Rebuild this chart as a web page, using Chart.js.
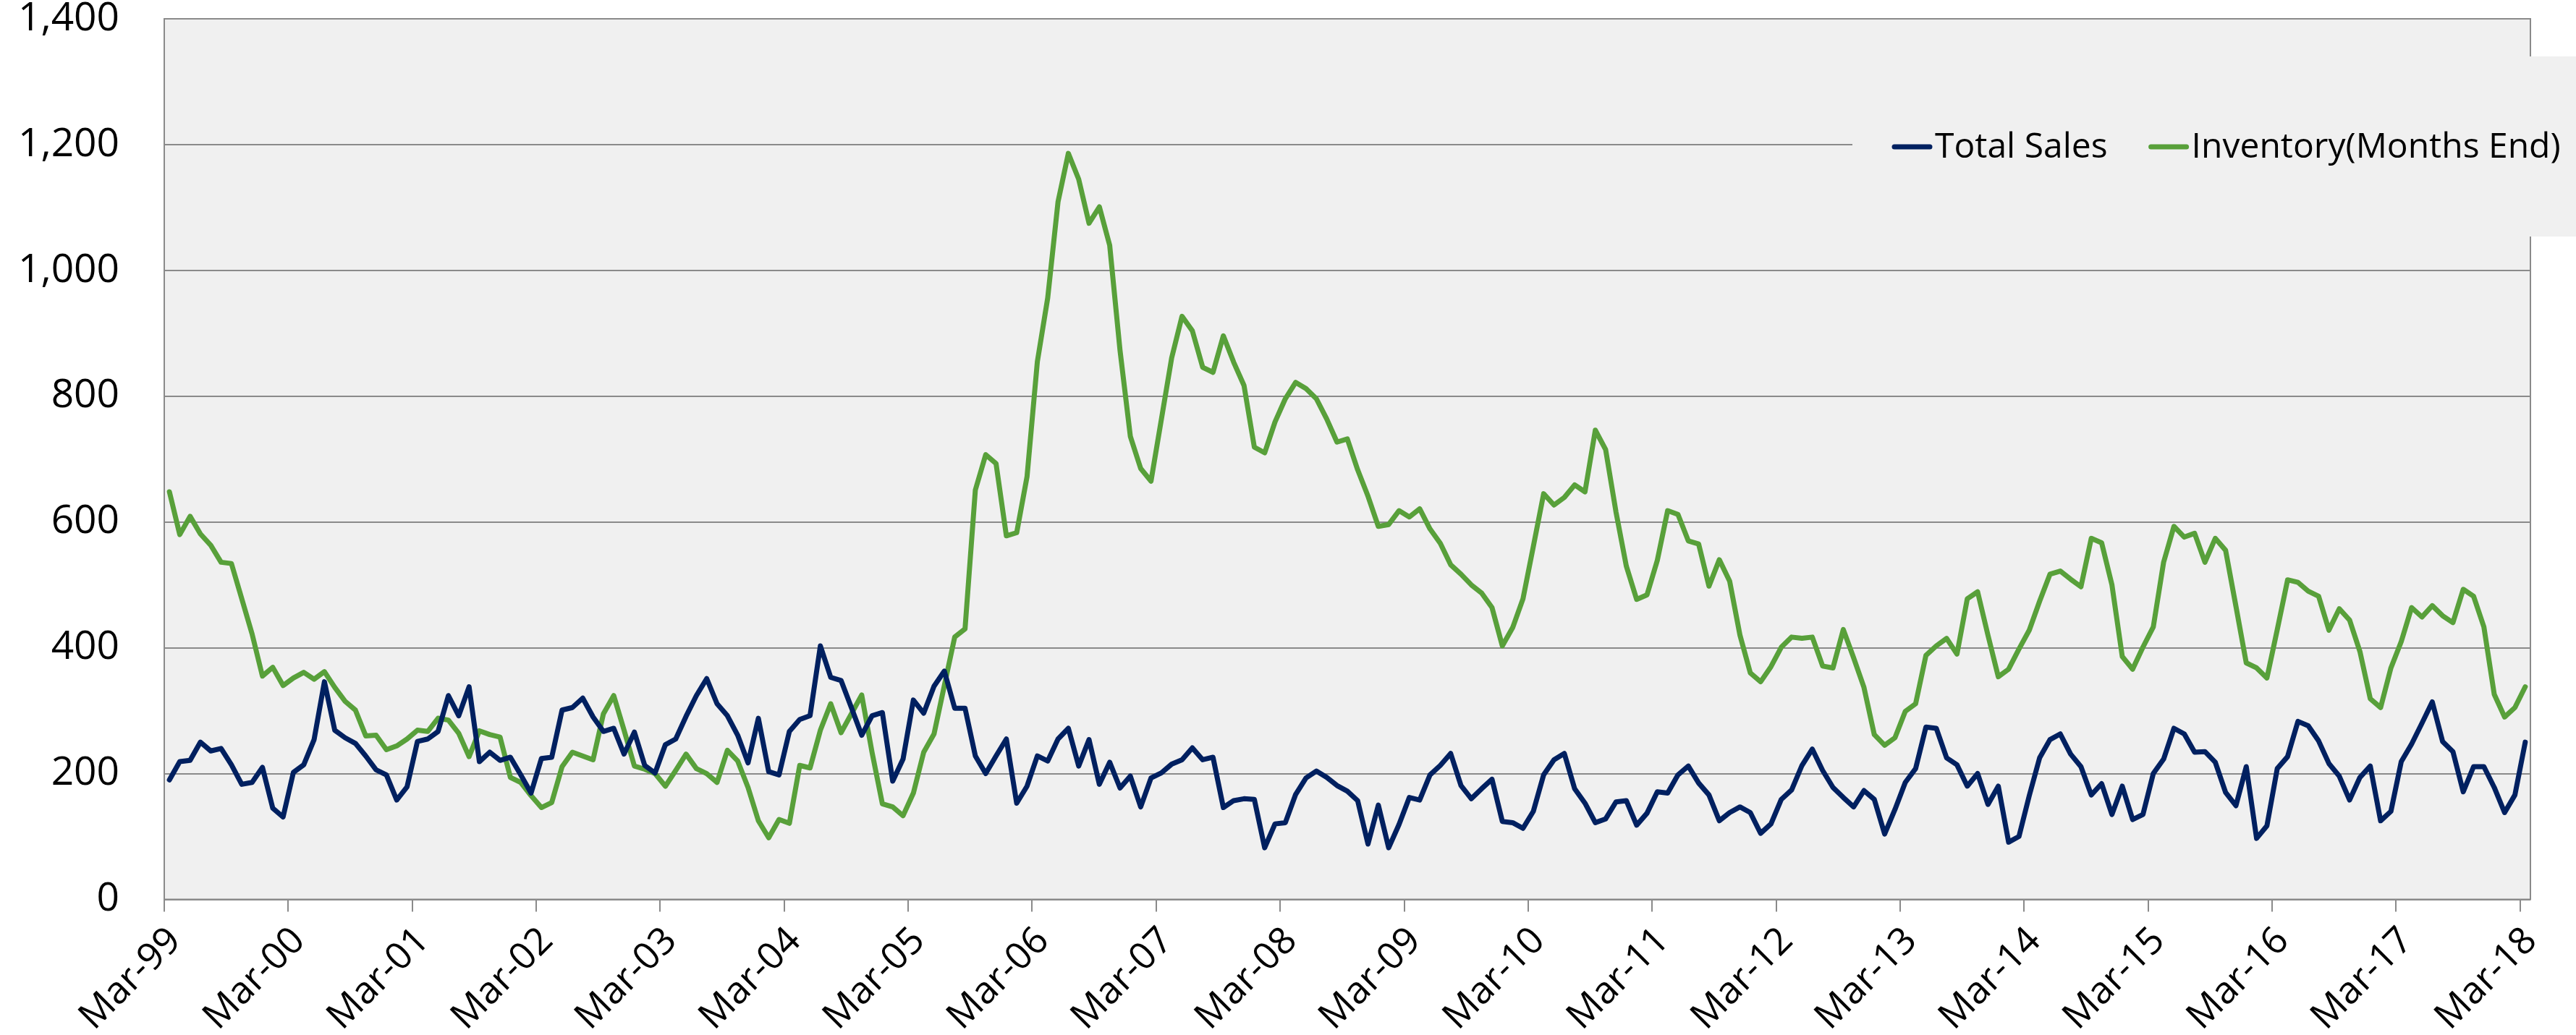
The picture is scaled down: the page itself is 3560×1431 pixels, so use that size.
<!DOCTYPE html>
<html lang="en">
<head>
<meta charset="utf-8">
<title>Total Sales and Inventory</title>
<script src="https://cdn.jsdelivr.net/npm/chart.js@4/dist/chart.umd.min.js"></script>
<style>
    html, body { margin: 0; padding: 0; background: #ffffff; }
    #wrap { position: relative; width: 3560px; height: 1431px; }
</style>
</head>
<body>
<div id="wrap"><canvas id="salesChart"></canvas></div>
<script>
// Monthly figures, Mar-99 .. Mar-18 (one row per year, Mar..Feb)
const totalSales = [
    190, 219, 221, 250, 236, 240, 214, 183, 186, 210, 145, 131,
    202, 214, 254, 346, 269, 257, 248, 228, 206, 198, 158, 179,
    251, 255, 267, 324, 292, 338, 219, 234, 221, 226, 198, 169,
    224, 226, 301, 305, 320, 290, 267, 272, 231, 266, 213, 201,
    246, 255, 291, 324, 351, 311, 292, 261, 217, 288, 203, 198,
    267, 286, 292, 403, 353, 348, 305, 261, 292, 297, 188, 223,
    317, 296, 339, 363, 304, 304, 228, 200, 228, 255, 153, 180,
    228, 220, 255, 272, 212, 254, 183, 218, 177, 196, 147, 193,
    201, 215, 222, 241, 222, 226, 146, 157, 160, 159, 82, 120,
    122, 167, 193, 204, 194, 181, 172, 157, 88, 150, 82, 119,
    162, 158, 198, 213, 232, 181, 160, 176, 191, 124, 122, 113,
    140, 198, 222, 232, 176, 153, 122, 128, 155, 157, 118, 137,
    171, 169, 198, 212, 185, 166, 125, 138, 147, 138, 105, 120,
    159, 174, 213, 239, 205, 178, 162, 147, 173, 159, 104, 143,
    186, 208, 274, 272, 225, 214, 180, 200, 151, 180, 91, 100,
    165, 225, 254, 263, 231, 211, 166, 184, 135, 180, 127, 135,
    200, 223, 272, 263, 234, 235, 218, 170, 149, 211, 97, 117,
    208, 227, 283, 276, 252, 216, 196, 158, 194, 212, 125, 140,
    219, 247, 280, 314, 251, 235, 171, 211, 211, 178, 138, 166,
    250
];

const inventory = [
    648, 580, 609, 581, 563, 536, 534, 478, 422, 355, 369, 340,
    352, 361, 350, 362, 337, 315, 301, 260, 261, 238, 244, 255,
    269, 267, 288, 285, 264, 227, 268, 262, 258, 194, 186, 165,
    146, 154, 211, 234, 228, 222, 295, 324, 269, 212, 207, 200,
    180, 205, 231, 208, 200, 186, 237, 220, 178, 125, 98, 127,
    121, 213, 209, 269, 311, 265, 295, 325, 234, 152, 147, 133,
    169, 234, 263, 340, 417, 430, 651, 707, 693, 578, 583, 672,
    855, 956, 1109, 1186, 1145, 1075, 1101, 1040, 873, 736, 685, 665,
    763, 861, 927, 904, 846, 838, 896, 854, 817, 719, 710, 759,
    796, 822, 812, 796, 764, 727, 732, 683, 641, 593, 596, 618,
    608, 621, 589, 566, 532, 517, 500, 487, 464, 403, 432, 478,
    561, 645, 627, 639, 659, 648, 746, 715, 616, 530, 477, 484,
    539, 618, 612, 570, 565, 498, 540, 506, 420, 360, 346, 370,
    401, 417, 415, 417, 371, 368, 429, 384, 337, 262, 245, 257,
    299, 311, 388, 403, 415, 390, 478, 489, 420, 354, 366, 398,
    428, 474, 517, 522, 509, 497, 574, 567, 500, 386, 366, 401,
    433, 536, 593, 576, 582, 536, 574, 555, 466, 376, 368, 352,
    429, 508, 504, 490, 482, 428, 462, 444, 394, 319, 305, 368,
    410, 464, 449, 467, 451, 440, 493, 482, 433, 326, 290, 305,
    338
];

const seriesNames = ['Total Sales', 'Inventory(Months End)'];
const seriesColors = ['#002060', '#58a03a'];

// one label per year, every 12 months
const yearTicks = [
    'Mar-99', 'Mar-00', 'Mar-01', 'Mar-02', 'Mar-03', 'Mar-04', 'Mar-05',
    'Mar-06', 'Mar-07', 'Mar-08', 'Mar-09', 'Mar-10', 'Mar-11', 'Mar-12',
    'Mar-13', 'Mar-14', 'Mar-15', 'Mar-16', 'Mar-17', 'Mar-18'
];

const FONT = '"Open Sans", "Noto Sans", sans-serif';
const GRID = '#8a8a8a';
const PLOT_BG = '#f0f0f0';

// each month sits in the middle of its slot on the axis
function toPoints(values) {
    return values.map((v, i) => ({ x: i + 0.5, y: v }));
}

// grey plot background and frame
const plotFrame = {
    id: 'plotFrame',
    beforeDraw(chart) {
        const { ctx, chartArea: a } = chart;
        ctx.save();
        ctx.fillStyle = PLOT_BG;
        ctx.fillRect(a.left, a.top, a.right - a.left, a.bottom - a.top);
        ctx.restore();
    },
    afterDatasetsDraw(chart) {
        const { ctx, chartArea: a } = chart;
        ctx.save();
        ctx.strokeStyle = GRID;
        ctx.lineWidth = 2;
        ctx.strokeRect(a.left, a.top, a.right - a.left, a.bottom - a.top);
        ctx.restore();
    }
};

// legend box at the upper right, sitting over the frame
const sideLegend = {
    id: 'sideLegend',
    afterDraw(chart) {
        const ctx = chart.ctx;
        ctx.save();
        ctx.fillStyle = PLOT_BG;
        ctx.fillRect(2560, 78, 1000, 249);

        ctx.font = '48px ' + FONT;
        ctx.textBaseline = 'alphabetic';
        ctx.textAlign = 'left';
        let x = 2614;
        chart.data.datasets.forEach(ds => {
            ctx.strokeStyle = ds.borderColor;
            ctx.lineWidth = 7;
            ctx.lineCap = 'round';
            ctx.beginPath();
            ctx.moveTo(x + 4, 203);
            ctx.lineTo(x + 53, 203);
            ctx.stroke();
            ctx.fillStyle = '#000000';
            ctx.fillText(ds.label, x + 60, 218);
            x += 60 + ctx.measureText(ds.label).width + 56;
        });
        ctx.restore();
    }
};

new Chart(document.getElementById('salesChart'), {
    type: 'line',
    data: {
        datasets: [
            {
                label: seriesNames[0],
                data: toPoints(totalSales),
                borderColor: seriesColors[0],
                backgroundColor: seriesColors[0]
            },
            {
                label: seriesNames[1],
                data: toPoints(inventory),
                borderColor: seriesColors[1],
                backgroundColor: seriesColors[1]
            }
        ]
    },
    options: {
        responsive: true,
        maintainAspectRatio: false,
        animation: false,
        devicePixelRatio: 1,
        layout: { padding: { top: 26, right: 63, bottom: 0, left: 0 } },
        elements: {
            point: { radius: 0 },
            line: { tension: 0, borderWidth: 7, borderCapStyle: 'round', borderJoinStyle: 'round' }
        },
        plugins: {
            legend: { display: false },
            tooltip: { enabled: false }
        },
        scales: {
            x: {
                type: 'linear',
                min: 0,
                max: totalSales.length,
                afterBuildTicks: scale => {
                    scale.ticks = yearTicks.map((_, k) => ({ value: k * 12 }));
                },
                afterFit: scale => { scale.height = 187.5; },
                grid: { drawOnChartArea: false, drawTicks: true, tickLength: 17, color: GRID, lineWidth: 2 },
                border: { display: false },
                ticks: {
                    autoSkip: false,
                    minRotation: 45,
                    maxRotation: 45,
                    padding: 10,
                    labelOffset: 15,
                    color: '#000000',
                    font: { family: FONT, size: 52 },
                    callback: v => yearTicks[Math.round(v / 12)]
                }
            },
            y: {
                min: 0,
                max: 1400,
                afterFit: scale => {
                    // keep the label gap from pushing the plot down
                    scale.width = 227;
                    scale.paddingTop = 20;
                    scale.paddingBottom = 20;
                },
                grid: { color: GRID, lineWidth: 2, drawTicks: false },
                border: { display: false },
                ticks: {
                    stepSize: 200,
                    padding: 62,
                    color: '#000000',
                    font: { family: FONT, size: 55, lineHeight: 1 },
                    callback: v => v.toLocaleString('en-US')
                }
            }
        }
    },
    plugins: [plotFrame, sideLegend]
});
</script>
</body>
</html>
